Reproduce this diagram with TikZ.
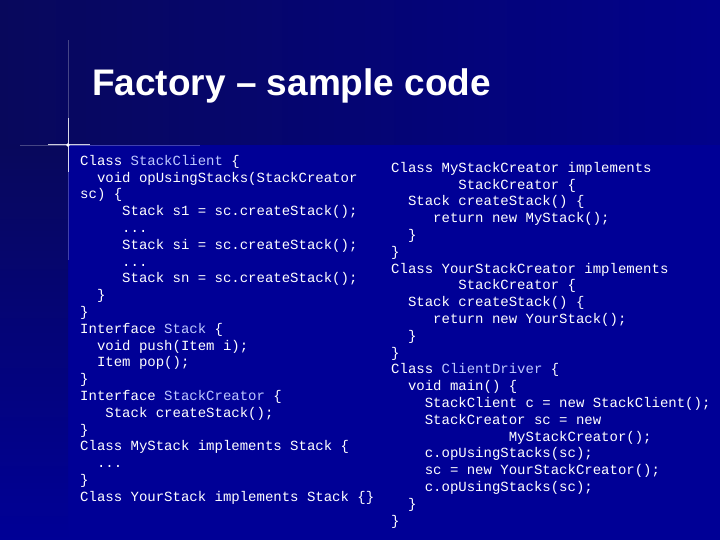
\documentclass[tikz,border=0pt]{standalone}
\usepackage{fontspec}
\setmainfont{Liberation Sans}
\setmonofont{Liberation Mono}
\usetikzlibrary{positioning}
\definecolor{slidetop}{RGB}{8,8,92}
\definecolor{slidebody}{RGB}{0,0,150}
\definecolor{keyword}{RGB}{190,200,255}
\newcommand{\ind}[1]{\hspace*{#1\dimexpr0.6em\relax}}
\newcommand{\kw}[1]{\textcolor{keyword}{#1}}

\begin{document}
\begin{tikzpicture}[x=1pt, y=-1pt,
  code/.style={anchor=north west, inner sep=0pt, align=left, text=white,
    font=\fontsize{14}{16.8}\selectfont\ttfamily},
  title/.style={anchor=base west, inner sep=0pt, text=white,
    font=\fontsize{37}{42}\selectfont\bfseries}]

  % background
  \fill[slidetop] (0,0) rectangle (720,540);
  \shade[left color=slidetop, right color=slidebody!80!slidetop] (0,0) rectangle (720,145);
  \fill[slidebody] (68,145) rectangle (720,540);
  \shade[top color=slidetop, bottom color=slidebody] (0,145) rectangle (68,540);

  % flare
  \draw[white, opacity=0.25, line width=0.8pt] (68,40) -- (68,260);
  \draw[white, opacity=0.25, line width=0.8pt] (20,145) -- (200,145);
  \draw[white, opacity=0.8, line width=1pt] (68,118) -- (68,172);
  \draw[white, opacity=0.8, line width=1pt] (48,145) -- (90,145);
  \fill[white] (68,145) circle (1.8);

  % title
  \node[title] (ttl) at (92,96) {Factory -- sample code};

  % left column
  \node[code] (left) at (80,155) {%
Class \kw{StackClient} \{\\
\ind2void opUsingStacks(StackCreator\\
sc) \{\\
\ind5Stack s1 = sc.createStack();\\
\ind5...\\
\ind5Stack si = sc.createStack();\\
\ind5...\\
\ind5Stack sn = sc.createStack();\\
\ind2\}\\
\}\\
Interface \kw{Stack} \{\\
\ind2void push(Item i);\\
\ind2Item pop();\\
\}\\
Interface \kw{StackCreator} \{\\
\ind3Stack createStack();\\
\}\\
Class MyStack implements Stack \{\\
\ind2...\\
\}\\
Class YourStack implements Stack \{\}};

  % right column
  \node[code] (right) at (391,162) {%
Class MyStackCreator implements\\
\ind8StackCreator \{\\
\ind2Stack createStack() \{\\
\ind5return new MyStack();\\
\ind2\}\\
\}\\
Class YourStackCreator implements\\
\ind8StackCreator \{\\
\ind2Stack createStack() \{\\
\ind5return new YourStack();\\
\ind2\}\\
\}\\
Class \kw{ClientDriver} \{\\
\ind2void main() \{\\
\ind4StackClient c = new StackClient();\\
\ind4StackCreator sc = new\\
\ind{14}MyStackCreator();\\
\ind4c.opUsingStacks(sc);\\
\ind4sc = new YourStackCreator();\\
\ind4c.opUsingStacks(sc);\\
\ind2\}\\
\}};
\end{tikzpicture}
\end{document}
